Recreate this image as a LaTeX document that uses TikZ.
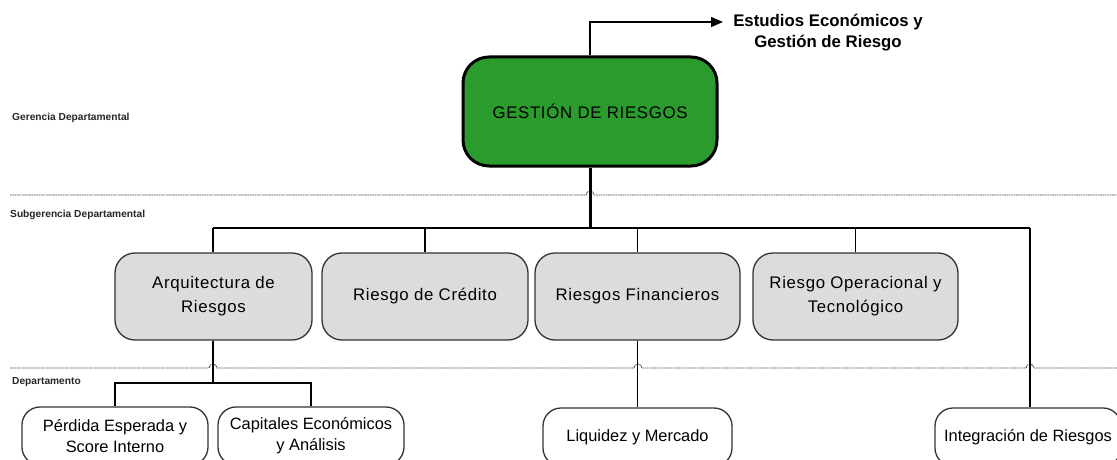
\documentclass[tikz,border=0pt]{standalone}
\usepackage{fontspec}
\setmainfont{Liberation Sans}
\newfontfamily\spacedfont[LetterSpace=4]{Liberation Sans}
\usetikzlibrary{arrows.meta}
\begin{document}
\begin{tikzpicture}[x=1pt,y=-1pt,
  topbox/.style={draw=black, line width=3pt, fill=topgreen, rounded corners=26pt,
    minimum width=254pt, minimum height=109pt, inner sep=0pt, align=center,
    font=\spacedfont\fontsize{16.8}{19}\selectfont},
  midbox/.style={draw=black!80, line width=1.3pt, fill=boxgray, rounded corners=20pt,
    minimum height=87pt, inner sep=0pt, align=center,
    font=\spacedfont\fontsize{16.8}{24}\selectfont},
  lowbox/.style={draw=black!80, line width=1.3pt, fill=white, rounded corners=18pt,
    minimum width=186pt, minimum height=58pt, inner sep=0pt, align=center,
    font=\fontsize{16.4}{21}\selectfont},
  levellabel/.style={anchor=west, inner sep=0pt, font=\bfseries\fontsize{10.2}{11}\selectfont, text=black!85},
  sepline/.style={draw=black!75, line width=0.9pt, dash pattern=on 1.6pt off 0.8pt},
  conn/.style={draw=black, line width=1.5pt},
  mainconn/.style={draw=black, line width=3pt},
]
\definecolor{topgreen}{HTML}{2B9B2E}
\definecolor{boxgray}{HTML}{DCDCDC}
\useasboundingbox (0,0) rectangle (1117,460);
\clip (0,0) rectangle (1117,460);

% level labels
\node[levellabel] (lger) at (12,118) {Gerencia Departamental};
\node[levellabel] (lsub) at (10,215) {Subgerencia Departamental};
\node[levellabel] (ldep) at (12,382) {Departamento};

% separator lines with hops
\draw[sepline] (10,195) -- (586,195) arc[start angle=180, end angle=360, radius=4] -- (1117,195);
\draw[sepline] (10,368) -- (209,368) arc[start angle=180, end angle=360, radius=4]
  -- (634,368) arc[start angle=180, end angle=360, radius=4]
  -- (1026,368) arc[start angle=180, end angle=360, radius=4] -- (1117,368);

% nodes
\node[topbox] (gr) at (590,111.5) {GESTIÓN DE RIESGOS};
\node[inner sep=0pt, align=center, font=\bfseries\fontsize{16.8}{21}\selectfont] (est) at (828,33) {Estudios Económicos y\\Gestión de Riesgo};

\node[midbox, minimum width=197pt] (arq) at (213.5,296.5) {Arquitectura de\\Riesgos};
\node[midbox, minimum width=206pt] (cred) at (425,296.5) {Riesgo de Crédito};
\node[midbox, minimum width=205pt] (fin) at (637.5,296.5) {Riesgos Financieros};
\node[midbox, minimum width=205pt] (ope) at (855.5,296.5) {Riesgo Operacional y\\Tecnológico};

\node[lowbox] (perd) at (115,436) {Pérdida Esperada y\\Score Interno};
\node[lowbox] (cap) at (311,436) {Capitales Económicos\\y Análisis};
\node[lowbox, minimum width=189pt] (liq) at (637.5,437) {Liquidez y Mercado};
\node[lowbox] (integ) at (1028,437) {Integración de Riesgos};

% coordinates
\coordinate (esttip) at (723,22);
\coordinate (bus) at (590,228);
\coordinate (busL) at (213,228);
\coordinate (busR) at (1030,228);
\coordinate (arqbus) at (213,383);

% connectors
\draw[conn, -{Triangle[length=12pt,width=10pt]}] (gr.north) |- (esttip);
\draw[mainconn] (gr.south) -- (bus);
\draw[conn] (busL) -- (busR);
\draw[conn] (busL) -- (busL |- arq.north);
\draw[conn] (cred.north |- bus) -- (cred.north);
\draw[conn] (fin.north |- bus) -- (fin.north);
\draw[conn] (ope.north |- bus) -- (ope.north);
\draw[conn] (busR) -- (busR |- integ.north);
\draw[conn] (arq.south -| arqbus) -- (arqbus);
\draw[conn] (arqbus) -| (perd.north);
\draw[conn] (arqbus) -| (cap.north);
\draw[conn] (fin.south) -- (liq.north);
\end{tikzpicture}
\end{document}
